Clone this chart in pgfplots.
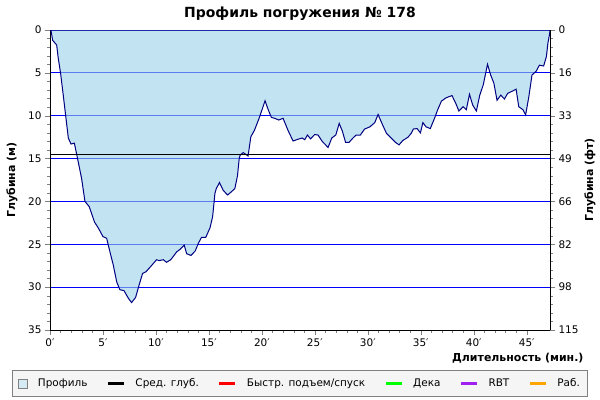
\documentclass[border=0pt]{standalone}
\usepackage{fontspec}
\setmainfont{DejaVu Sans}
\usepackage{pgfplots}
\pgfplotsset{compat=1.18}
\definecolor{profilefill}{RGB}{152,208,233}
\definecolor{profilelegend}{RGB}{192,227,242}
\definecolor{profileline}{RGB}{0,0,128}
\definecolor{gridblue}{RGB}{0,0,255}
\definecolor{legendbg}{RGB}{245,245,245}
\definecolor{rbtcol}{RGB}{160,32,240}
\definecolor{workcol}{RGB}{255,165,0}

\begin{document}
\begin{tikzpicture}
\useasboundingbox (0,0) rectangle (600bp,400bp);
\pgfplotsset{
  every axis/.append style={
    scale only axis, width=500bp, height=300bp,
    at={(50bp,70bp)}, anchor=south west,
    xmin=0, xmax=47.2, ymin=0, ymax=35, y dir=reverse,
    tick label style={font=\fontsize{10.5}{12}\selectfont},
    label style={font=\bfseries\fontsize{11}{13}\selectfont},
    /pgf/number format/assume math mode=true,
    tick align=outside, major tick length=5bp, minor tick length=3bp,
    axis line style={line width=1bp},
    ytick={0,5,...,35}, minor y tick num=4,
  },
}
\begin{axis}[
  axis x line*=bottom, axis y line*=left,
  xtick={0,5,...,45}, minor x tick num=4,
  xticklabels={0′,5′,10′,15′,20′,25′,30′,35′,40′,45′},
  ymajorgrids, major grid style={draw=gridblue, line width=1bp},
  ylabel={Глубина (м)},
  ylabel style={at={(axis description cs:-0.076,0.5)}, anchor=center},
  xlabel={Длительность (мин.)},
  xlabel style={at={(axis description cs:1.074,-0.093)}, anchor=east},
  title={Профиль погружения № 178},
  title style={at={(axis description cs:0.5,1.035)}, anchor=center,
    font=\bfseries\fontsize{14}{16}\selectfont},
  legend columns=6,
  legend style={at={(axis description cs:0.5,-0.178)}, anchor=center,
    draw=gray, fill=legendbg, line width=0.8bp,
    font=\fontsize{10.5}{12}\selectfont,
    inner xsep=6bp, inner ysep=6bp,
    /tikz/every odd column/.append style={column sep=8bp},
    /tikz/every even column/.append style={column sep=17bp}},
  legend image code/.code={\draw[#1, line width=3bp] (0bp,0bp) -- (16bp,0bp);},
]
\addplot[draw=profileline, line width=1bp, fill=profilefill, fill opacity=0.6,
  legend image code/.code={\draw[draw=gray, fill=profilelegend, line width=0.8bp] (2bp,-4.5bp) rectangle (11bp,4.5bp);}]
coordinates {
(0,0) (0.1,0.1) (0.25,1.2) (0.63,1.75) (0.78,3.3) (1.0,5.05) (1.25,7.6)
(1.48,10) (1.73,12.6) (1.98,13.3) (2.3,13.2) (2.6,15) (2.98,17.3) (3.3,20)
(3.7,20.6) (4.2,22.4) (4.56,23.1) (5.0,24.1) (5.35,24.3) (5.66,25.9)
(5.97,27.4) (6.3,29.4) (6.6,30.3) (6.98,30.4) (7.4,31.3) (7.7,31.8)
(8.08,31.2) (8.4,29.8) (8.74,28.4) (9.06,28.2) (9.5,27.6) (10.06,26.8)
(10.3,26.9) (10.7,26.8) (11.0,27.1) (11.4,26.8) (11.95,25.9) (12.26,25.6)
(12.67,25.1) (12.9,26.1) (13.3,26.3) (13.7,25.8) (14.0,24.9) (14.3,24.2)
(14.7,24.2) (15.1,23.1) (15.35,21.8) (15.57,19.05) (15.7,18.5) (16.0,17.8)
(16.35,18.7) (16.76,19.25) (17.1,18.9) (17.45,18.5) (17.7,17.0) (17.86,15)
(17.95,14.6) (18.24,14.3) (18.7,14.7) (18.96,12.45) (19.3,11.7) (19.8,10.1)
(20.3,8.25) (20.6,9.3) (20.9,10.2) (21.2,10.3) (21.6,10.5) (22.0,10.3)
(22.5,11.8) (22.95,12.95) (23.4,12.75) (23.8,12.6) (24.05,12.8) (24.3,12.25)
(24.6,12.7) (24.98,12.2) (25.3,12.25) (25.7,13.0) (26.25,13.7) (26.6,12.6)
(26.98,12.25) (27.3,10.9) (27.6,11.8) (27.9,13.1) (28.24,13.1) (28.6,12.6)
(28.9,12.25) (29.3,12.25) (29.7,11.55) (30.2,11.3) (30.66,10.8) (30.97,9.85)
(31.3,10.8) (31.76,12.05) (32.2,12.6) (32.6,13.1) (32.95,13.4) (33.3,12.9)
(33.8,12.5) (34.1,12.05) (34.3,11.55) (34.65,11.5) (34.97,12.0) (35.2,10.8)
(35.5,11.3) (35.9,11.5) (36.3,10.3) (36.6,9.3) (36.95,8.3) (37.4,7.9)
(37.95,7.65) (38.3,8.55) (38.6,9.45) (39.0,8.95) (39.3,9.3) (39.6,7.5)
(39.9,8.75) (40.25,9.45) (40.57,7.6) (40.9,6.4) (41.3,4.0) (41.6,5.25)
(41.9,6.2) (42.2,8.2) (42.55,7.6) (42.9,8.05) (43.2,7.4) (43.7,7.1)
(44.0,6.9) (44.25,8.95) (44.65,9.3) (44.9,9.9) (45.2,7.8) (45.5,5.25)
(45.9,4.8) (46.2,4.1) (46.6,4.2) (46.86,3.1) (47.0,1.55) (47.17,0.4) (47.2,0)
} \closedcycle;
\addlegendentry{Профиль}
% average depth
\addplot[black, line width=1bp] coordinates {(0,14.5) (47.2,14.5)};
\addlegendentry{Сред. глуб.}
\addlegendimage{red}
\addlegendentry{Быстр. подъем/спуск}
\addlegendimage{green}
\addlegendentry{Дека}
\addlegendimage{rbtcol}
\addlegendentry{RBT}
\addlegendimage{workcol}
\addlegendentry{Раб.}
\end{axis}

% right axis in feet
\begin{axis}[
  axis y line*=right, axis x line=none,
  yticklabels={0,16,33,49,66,82,98,115},
  ylabel={Глубина (фт)},
  ylabel style={at={(axis description cs:1.08,0.5)}, anchor=center},
]
\addplot[draw=none] coordinates {(0,0) (47.2,35)};
\end{axis}
\end{tikzpicture}
\end{document}
